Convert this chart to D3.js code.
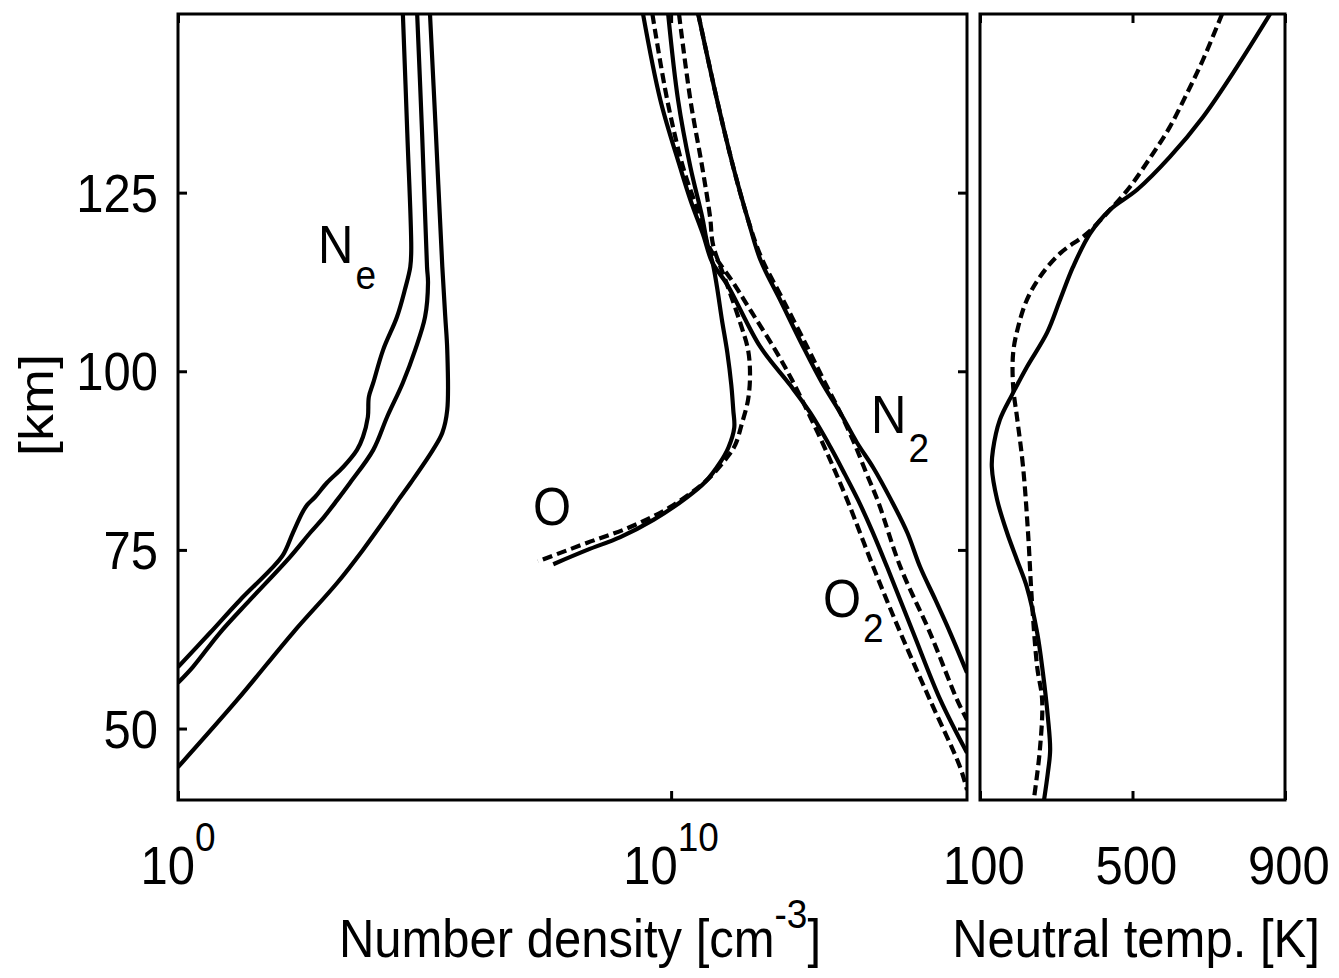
<!DOCTYPE html>
<html><head><meta charset="utf-8">
<script src="https://cdn.jsdelivr.net/npm/d3@7"></script>
<style>
body{margin:0;background:#fff;}
text{font-family:"Liberation Sans", Arial, Helvetica, sans-serif; fill:#000;}
</style>
</head><body>
<svg id="chart" width="1339" height="978"></svg>
<script>
// ---------------- data ----------------
const altTicks = [50, 75, 100, 125];
const densityTicks = [1, 1e10];
const densityTickExp = ["0", "10"];
const tempTicks = [100, 500, 900];

// electron density profiles: [altitude km, log10 density cm^-3]
const ne1 = [[150,4.56],[133.3,4.65],[117.0,4.73],[114.6,4.71],[111.4,4.60],[107.6,4.44],[103.0,4.16],[98.4,3.96],[96.4,3.87],[93.6,3.85],[90.8,3.75],[89.0,3.63],[86.6,3.35],[84.4,3.02],[82.4,2.78],[81.3,2.62],[80.2,2.52],[77.4,2.33],[74.3,2.13],[72.2,1.87],[68.0,1.26],[63.4,0.65],[58.6,0]];
const ne2 = [[150,4.85],[133.3,4.95],[114.6,5.05],[112.4,5.07],[107.6,5.01],[103.0,4.81],[98.4,4.56],[93.6,4.24],[89.0,3.96],[84.4,3.49],[82.0,3.23],[79.6,2.96],[77.4,2.68],[74.0,2.27],[68.0,1.46],[63.4,0.85],[58.6,0.30],[56.4,0]];
const ne3 = [[150,5.11],[133.3,5.23],[114.6,5.36],[107.6,5.42],[103.0,5.46],[94.6,5.46],[91.4,5.36],[89.0,5.17],[84.4,4.72],[82.0,4.47],[79.6,4.23],[75.0,3.75],[70.4,3.23],[63.4,2.33],[54.0,1.20],[44.6,0]];

// neutral species: [altitude km, log10 density cm^-3]
const oSolid = [[150,9.94],[138.0,10.14],[128.6,10.39],[121.6,10.63],[118.0,10.73],[114.9,10.85],[111.8,10.93],[107.2,11.03],[102.6,11.14],[98.1,11.22],[94.6,11.26],[92.1,11.28],[89.3,11.16],[87.2,10.99],[84.5,10.69],[82.4,10.33],[79.2,9.64],[76.8,8.97],[75.0,8.30],[73.0,7.61]];
const oDashed = [[150,10.16],[138.0,10.39],[128.6,10.63],[121.6,10.79],[117.7,10.85],[112.8,11.10],[106.8,11.40],[103.0,11.56],[99.5,11.60],[96.0,11.56],[92.8,11.44],[89.7,11.30],[88.0,11.14],[84.8,10.73],[81.0,9.98],[78.2,9.17],[76.0,8.30],[73.4,7.30]];
const o2Solid = [[150,9.43],[138.0,9.78],[128.6,10.18],[124.0,10.39],[119.1,10.65],[115.3,10.83],[112.1,11.14],[103.4,11.81],[98.1,12.41],[94.2,12.82],[89.4,13.23],[85.5,13.53],[82.0,13.79],[77.6,14.08],[72.6,14.38],[63.4,14.91],[54.0,15.46],[46.6,16.0]];
const o2Dashed = [[150,9.62],[138.0,9.92],[128.6,10.24],[122.6,10.53],[117.7,10.75],[112.4,11.26],[108.2,11.64],[103.0,12.11],[98.8,12.45],[94.2,12.78],[88.6,13.16],[82.0,13.57],[72.6,14.10],[63.4,14.65],[54.0,15.25],[44.6,15.86],[41.4,16.0]];
const n2Solid = [[150,10.55],[138.0,10.93],[128.6,11.26],[121.2,11.56],[115.6,11.81],[110.0,12.21],[103.4,12.68],[98.4,13.06],[94.2,13.43],[90.0,13.77],[86.5,14.10],[82.0,14.46],[77.4,14.79],[72.6,15.05],[68.0,15.36],[63.4,15.66],[57.8,16.0]];
const n2Dashed = [[150,10.55],[138.0,10.93],[128.6,11.26],[121.2,11.56],[115.9,11.83],[110.0,12.27],[103.4,12.76],[98.4,13.12],[94.2,13.43],[90.0,13.71],[85.9,13.95],[81.7,14.20],[72.6,14.65],[63.4,15.25],[54.0,15.80],[51.2,16.0]];

// neutral temperature: [altitude km, K]
const tempSolid = [[150,861],[142.6,774],[135.6,685],[130.0,598],[125.4,512],[122.6,441],[119.3,389],[114.6,344],[110.0,310],[105.4,276],[100.6,223],[96.7,184],[93.2,152],[89.0,134],[86.6,131],[82.0,145],[77.4,171],[73.6,197],[69.8,223],[63.4,250],[57.8,265],[51.6,278],[47.0,284],[43.8,278],[40,268]];
const tempDashed = [[150,735],[143.6,685],[138.9,643],[134.2,598],[130.5,554],[125.8,493],[122.6,441],[119.3,381],[116.5,310],[113.2,257],[110.0,223],[106.2,200],[102.6,187],[97.8,187],[93.6,197],[86.6,213],[77.4,226],[68.0,236],[58.6,250],[54.0,263],[47.0,257],[40,241]];

// ---------------- layout ----------------
const svg = d3.select("#chart");
const L = {x0:178, x1:967, y0:14, y1:800};
const R = {x0:980, x1:1285};
const FS = 49, SUB = 37, STRETCH = 1.1;
const LW = 4.2, dash = "10,5";

const y = d3.scaleLinear().domain([40,150]).range([L.y1, L.y0]);
const xD = d3.scaleLog().domain([1, 1e16]).range([L.x0, L.x1]);
const xT = d3.scaleLinear().domain([100, 900]).range([R.x0, R.x1]);

const defs = svg.append("defs");
defs.append("clipPath").attr("id","clipL").append("rect")
  .attr("x",L.x0).attr("y",L.y0).attr("width",L.x1-L.x0).attr("height",L.y1-L.y0);
defs.append("clipPath").attr("id","clipR").append("rect")
  .attr("x",R.x0).attr("y",L.y0).attr("width",R.x1-R.x0).attr("height",L.y1-L.y0);

const lineD = d3.line().x(d => xD(Math.pow(10, d[1]))).y(d => y(d[0])).curve(d3.curveCatmullRom.alpha(0.5));
const lineT = d3.line().x(d => xT(d[1])).y(d => y(d[0])).curve(d3.curveCatmullRom.alpha(0.5));

const gL = svg.append("g").attr("clip-path","url(#clipL)");
[ne1, ne2, ne3, oSolid, o2Solid, n2Solid].forEach(s => {
  gL.append("path").attr("d", lineD(s)).attr("fill","none").attr("stroke","#000").attr("stroke-width",LW).attr("stroke-linejoin","round");
});
[oDashed, o2Dashed, n2Dashed].forEach(s => {
  gL.append("path").attr("d", lineD(s)).attr("fill","none").attr("stroke","#000").attr("stroke-width",LW).attr("stroke-dasharray",dash);
});

const gR = svg.append("g").attr("clip-path","url(#clipR)");
gR.append("path").attr("d", lineT(tempSolid)).attr("fill","none").attr("stroke","#000").attr("stroke-width",LW);
gR.append("path").attr("d", lineT(tempDashed)).attr("fill","none").attr("stroke","#000").attr("stroke-width",LW).attr("stroke-dasharray",dash);

// frames
svg.append("rect").attr("x",L.x0).attr("y",L.y0).attr("width",L.x1-L.x0).attr("height",L.y1-L.y0)
  .attr("fill","none").attr("stroke","#000").attr("stroke-width",3);
svg.append("rect").attr("x",R.x0).attr("y",L.y0).attr("width",R.x1-R.x0).attr("height",L.y1-L.y0)
  .attr("fill","none").attr("stroke","#000").attr("stroke-width",3);

// ticks (inward) using d3 axes
const tk = 9;
function ticks(axis, tr) {
  svg.append("g").attr("transform", tr)
    .call(axis.tickSize(tk).tickFormat(""))
    .call(g => g.select(".domain").remove())
    .selectAll("line").attr("stroke-width",3);
}
ticks(d3.axisRight(y).tickValues(altTicks), `translate(${L.x0},0)`);
ticks(d3.axisLeft(y).tickValues(altTicks), `translate(${L.x1},0)`);
ticks(d3.axisTop(xD).tickValues(densityTicks), `translate(0,${L.y1})`);
ticks(d3.axisBottom(xD).tickValues(densityTicks), `translate(0,${L.y0})`);
ticks(d3.axisTop(xT).tickValues(tempTicks), `translate(0,${L.y1})`);
ticks(d3.axisBottom(xT).tickValues(tempTicks), `translate(0,${L.y0})`);

// text helper: stretched vertically like the reference
function txt(x, yy, anchor, rot) {
  const t = rot
    ? `translate(${x},${yy}) rotate(-90) scale(${STRETCH},1)`
    : `translate(${x},${yy}) scale(1,${STRETCH})`;
  return svg.append("text").attr("transform", t).attr("text-anchor", anchor).attr("font-size", FS);
}

// y tick labels
altTicks.forEach(v => { txt(158, y(v) + 19, "end").text(v); });
// density tick labels
densityTicks.forEach((v, i) => {
  const t = txt(xD(v), 884, "middle");
  t.append("tspan").text("10");
  t.append("tspan").attr("font-size", SUB).attr("dy", -30).text(densityTickExp[i]);
});
// temperature tick labels
tempTicks.forEach(v => { txt(xT(v) + 4, 884, "middle").text(v); });

// axis titles
{
  const t = txt(580, 957, "middle");
  t.append("tspan").text("Number density [cm");
  t.append("tspan").attr("font-size", SUB).attr("dy", -26).text("-3");
  t.append("tspan").attr("dy", 26).text("]");
}
txt(1136, 957, "middle").text("Neutral temp. [K]");
txt(53, 405, "middle", true).text("[km]");

// curve labels
function subLabel(x, yy, main, sub, dy) {
  const t = txt(x, yy, "start");
  t.append("tspan").text(main);
  t.append("tspan").attr("font-size", SUB).attr("dy", dy).attr("dx", 2).text(sub);
}
subLabel(318, 263, "N", "e", 24);
txt(533, 525, "start").text("O");
subLabel(823, 617, "O", "2", 23);
subLabel(871, 433, "N", "2", 26);
</script>
</body></html>
